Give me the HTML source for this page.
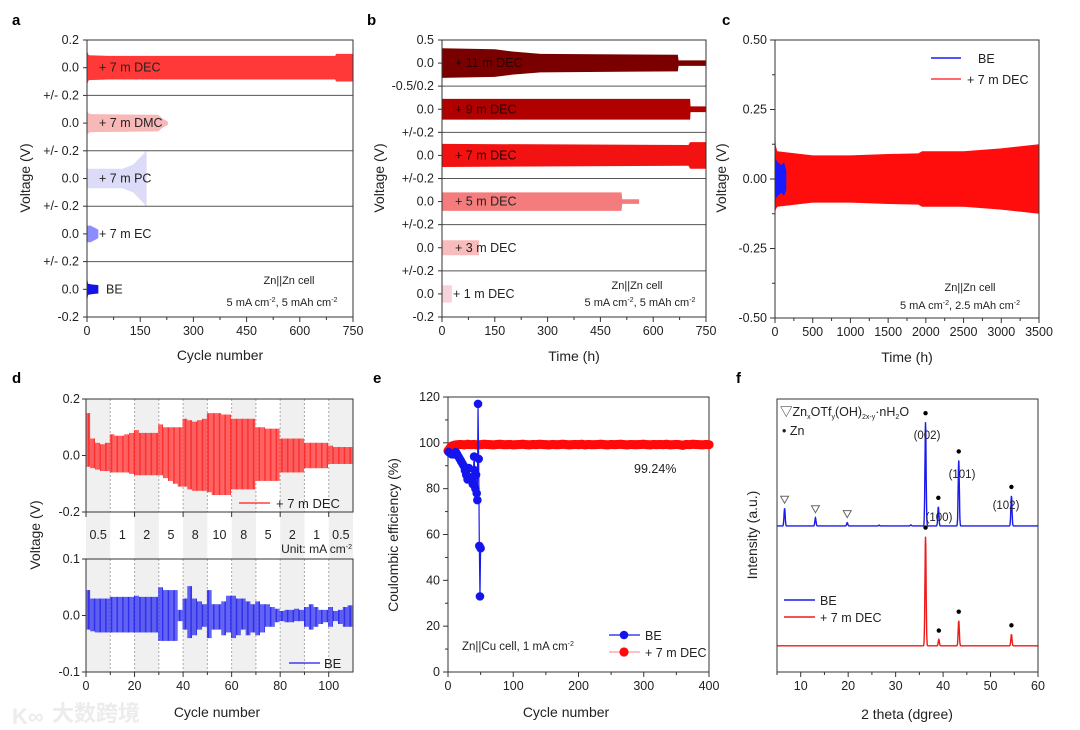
<!DOCTYPE html>
<html><head><meta charset="utf-8">
<style>
html,body{margin:0;padding:0;background:#fff;}
svg{display:block;font-family:"Liberation Sans","Noto Sans CJK SC",sans-serif;}
</style></head>
<body>
<svg id="fig" width="1080" height="730" viewBox="0 0 1080 730" xmlns="http://www.w3.org/2000/svg">
<text x="52" y="721" font-size="22" fill="#ececec" font-weight="bold" font-family="'Noto Sans CJK SC',sans-serif">大数跨境</text>
<text x="12" y="724" font-size="22" fill="#ececec" font-weight="bold">K∞</text>
</svg>
<script>
// ---------- DATA ----------
const aNames = ["+ 7 m DEC","+ 7 m DMC","+ 7 m PC","+ 7 m EC","BE"];
const aColors = ["#ff3838","#f8b8b8","#dcdcf8","#8c8cff","#1414e6"];
const aEnvX = [[0,5,60,700,702,750],[0,10,200,215,228],[0,100,130,160,166,168],[0,10,25,32],[0,3,15,32]];
const aEnvY = [[0.12,0.09,0.085,0.085,0.1,0.1],[0.08,0.065,0.06,0.03,0.012],[0.07,0.07,0.1,0.18,0.2,0.2],[0.06,0.06,0.04,0.03],[0.09,0.04,0.035,0.03]];
const aXTicks = [0,150,300,450,600,750];
const bNames = ["+ 11 m DEC","+ 9 m DEC","+ 7 m DEC","+ 5 m DEC","+ 3 m DEC","+ 1 m DEC"];
const bColors = ["#7a0000","#b00000","#f21212","#f57c7c","#f8bcbc","#f9d3dc"];
const bRange = [0.5,0.2,0.2,0.2,0.2,0.2];
const bEnvX = [[0,150,200,280,670,672,750],[0,705,706,750],[0,700,705,750],[0,510,512,560],[0,105],[0,28]];
const bEnvY = [[0.32,0.3,0.25,0.2,0.18,0.06,0.06],[0.09,0.09,0.025,0.025],[0.1,0.09,0.115,0.115],[0.08,0.08,0.02,0.02],[0.065,0.065],[0.075,0.075]];
const cRedX = [0,10,30,500,1000,1500,1900,1950,2500,3000,3500];
const cRedUp = [0.2,0.12,0.1,0.085,0.085,0.09,0.092,0.1,0.1,0.11,0.125];
const cRedLo = [-0.13,-0.11,-0.1,-0.085,-0.085,-0.09,-0.092,-0.1,-0.1,-0.11,-0.125];
const cBlueX = [0,10,40,80,120,150];
const cBlueUp = [0.14,0.07,0.06,0.05,0.06,0.03];
const cBlueLo = [-0.16,-0.07,-0.06,-0.05,-0.06,-0.04];
const cXTicks = [0,500,1000,1500,2000,2500,3000,3500];
const cYTicks = [0.5,0.25,0,-0.25,-0.5];
const cYLabels = ["0.50","0.25","0.00","-0.25","-0.50"];
const dRates = ["0.5","1","2","5","8","10","8","5","2","1","0.5"];
const dRedUp = [0.15,0.06,0.045,0.04,0.045,0.075,0.07,0.07,0.075,0.08,0.09,0.08,0.08,0.08,0.08,0.11,0.1,0.1,0.1,0.1,0.13,0.125,0.12,0.125,0.13,0.15,0.15,0.15,0.145,0.145,0.13,0.13,0.13,0.13,0.13,0.1,0.1,0.095,0.095,0.095,0.06,0.06,0.06,0.06,0.06,0.045,0.045,0.045,0.045,0.045,0.035,0.03,0.03,0.03,0.03];
const dRedLo = [-0.04,-0.045,-0.05,-0.055,-0.055,-0.06,-0.06,-0.06,-0.06,-0.065,-0.07,-0.07,-0.07,-0.07,-0.07,-0.07,-0.08,-0.09,-0.1,-0.11,-0.11,-0.12,-0.125,-0.125,-0.125,-0.13,-0.14,-0.14,-0.14,-0.14,-0.12,-0.12,-0.12,-0.12,-0.12,-0.09,-0.09,-0.09,-0.09,-0.09,-0.06,-0.06,-0.06,-0.06,-0.06,-0.045,-0.045,-0.045,-0.045,-0.045,-0.03,-0.03,-0.03,-0.03,-0.03];
const dBlueUp = [0.045,0.03,0.03,0.03,0.03,0.033,0.033,0.033,0.033,0.033,0.035,0.033,0.033,0.033,0.033,0.05,0.045,0.045,0.045,0.01,0.03,0.052,0.03,0.025,0.02,0.045,0.02,0.02,0.025,0.035,0.035,0.03,0.03,0.025,0.02,0.025,0.02,0.02,0.015,0.012,0.008,0.01,0.01,0.012,0.01,0.015,0.02,0.015,0.01,0.01,0.015,0.008,0.01,0.015,0.018];
const dBlueLo = [-0.025,-0.028,-0.03,-0.03,-0.03,-0.03,-0.03,-0.03,-0.03,-0.03,-0.03,-0.03,-0.03,-0.03,-0.03,-0.045,-0.045,-0.045,-0.045,-0.01,-0.025,-0.04,-0.035,-0.025,-0.02,-0.04,-0.025,-0.025,-0.035,-0.03,-0.04,-0.035,-0.025,-0.035,-0.03,-0.035,-0.03,-0.02,-0.02,-0.012,-0.01,-0.012,-0.012,-0.01,-0.01,-0.02,-0.025,-0.02,-0.015,-0.012,-0.02,-0.01,-0.015,-0.02,-0.02];
const dXTicks = [0,20,40,60,80,100];
const eBeX = [1,3,6,9,12,14,16,18,20,22,24,26,28,30,32,34,36,38,40,41,42,43,44,45,46,47,48,49,50];
const eBeY = [96,95.5,95,95,96,95,94,93,92,91,90,88,86,84,89,85,84,82,94,88,80,86,78,75,117,93,55,33,54];
const eDecY = [96.5,98.5,99,99.2,99.3,99.1,99.4,99.2,99.3,99.1,99.2,99.4,99.3,99.2,99.1,99.3,99.4,99.2,99.2,99.3,99.1,99.2,99.3,99.4,99.2,99.1,99.3,99.2,99.4,99.3,99.2,99.1,99.3,99.2,99.2,99.4,99.3,99.1,99.2,99.3,99.2,99.4,99.1,99.3,99.2,99.2,99.3,99.4,99.2,99.1,99.3,99.2,99.3,99.4,99.2,99.1,99.3,99.2,99.2,99.3,99.4,99.2,99.1,99.3,99.2,99.3,99.2,99.4,99.1,99.2,99.3,99.2,98.9,99.3,99.2,99.4,99.3,99.2,99.1,99.3,99.2];
const eXTicks = [0,100,200,300,400];
const eYTicks = [0,20,40,60,80,100,120];
const fBluePos = [6.6,13.1,19.8,26.5,33.2,36.3,39.0,43.3,54.4];
const fBlueH = [6.5,3,1.2,0.3,0.4,38,7,24,11];
const fRedPos = [36.3,39.1,43.3,54.4];
const fRedH = [40,2.3,9.2,4.2];
const fXTicks = [10,20,30,40,50,60];
const fBlueOffset = 53.5, fRedOffset = 9.6;

// ---------- HELPERS ----------
const NS = "http://www.w3.org/2000/svg";
const svg = document.getElementById('fig');
function mk(tag, attrs, parent){ const e=document.createElementNS(NS,tag); for(const k in attrs) e.setAttribute(k,attrs[k]); (parent||svg).appendChild(e); return e; }
function lin(d0,d1,r0,r1){ return v => r0+(v-d0)*(r1-r0)/(d1-d0); }
function txt(x,y,s,opt,parent){ const t=mk('text',Object.assign({x:x,y:y,'font-size':12,fill:'#222'},opt||{}),parent); t.innerHTML=s; return t; }

function frame(x0,y0,x1,y1,name){ const r=mk('rect',{x:x0,y:y0,width:x1-x0,height:y1-y0,fill:'none',stroke:'#333','stroke-width':1});   return r; }
function xAxisTicks(xs,ticks,labels,y,minor,name){
  const g=mk('g',{});  
  ticks.forEach((t,i)=>{ mk('line',{x1:xs(t),x2:xs(t),y1:y,y2:y+5,stroke:'#333'},g); txt(xs(t),y+18,labels[i],{'text-anchor':'middle','font-size':12.5},g);
    if(minor && i<ticks.length-1){ const m=(t+ticks[i+1])/2; mk('line',{x1:xs(m),x2:xs(m),y1:y,y2:y+3,stroke:'#333'},g);} });
  return g;
}
function panelLetter(x,y,s){ const t=txt(x,y,s,{'font-size':15,'font-weight':'bold',fill:'#000'});   }
function yTitle(x,y,s,name){ const t=txt(x,y,s,{'font-size':14,'text-anchor':'middle',transform:`rotate(-90 ${x} ${y})`});   }
function xTitle(x,y,s,name){ const t=txt(x,y,s,{'font-size':14,'text-anchor':'middle'});   }
function envPath(xs,ex,ey,zero,sc){ let up='',lo=''; const n=ex.length;
  for(let i=0;i<n;i++){ up+=(i?'L':'M')+xs(ex[i])+','+(zero-ey[i]*sc); }
  for(let i=n-1;i>=0;i--){ lo+='L'+xs(ex[i])+','+(zero+ey[i]*sc); }
  return up+lo+'Z'; }

// ---------- PANEL a ----------
panelLetter(12,25,'a');
(function(){
  const x0=87,x1=353,y0=40,y1=317, n=5, bh=(y1-y0)/n;
  const xs=lin(0,750,x0,x1);
  for(let i=0;i<n;i++){
    const top=y0+i*bh, zero=top+bh/2, sc=(bh/2)/0.2;
    const p=mk('path',{d:envPath(xs,aEnvX[i],aEnvY[i],zero,sc),fill:aColors[i]});
    
    
    const lab=txt(i==4?106:99,zero+4,aNames[i],{'font-size':12.5});
     
    mk('line',{x1:x0-4,x2:x0,y1:zero,y2:zero,stroke:'#333'});
    txt(79,zero+4,'0.0',{'text-anchor':'end','font-size':12.5});
    if(i>0){ mk('line',{x1:x0,x2:x1,y1:top,y2:top,stroke:'#555'}); mk('line',{x1:x0-4,x2:x0,y1:top,y2:top,stroke:'#333'});
      txt(79,top+4,'+/- 0.2',{'text-anchor':'end','font-size':12.5}); }
  }
  mk('line',{x1:x0-4,x2:x0,y1:y0,y2:y0,stroke:'#333'}); txt(79,y0+4,'0.2',{'text-anchor':'end','font-size':12.5});
  mk('line',{x1:x0-4,x2:x0,y1:y1,y2:y1,stroke:'#333'}); txt(79,y1+4,'-0.2',{'text-anchor':'end','font-size':12.5});
  frame(x0,y0,x1,y1,'a-plot-frame');
  xAxisTicks(xs,aXTicks,aXTicks.map(String),y1,true,'a-x-axis');
  xTitle(220,360,'Cycle number','a-x-axis-title'); yTitle(30,178,'Voltage (V)','a-y-axis-title');
  const t1=txt(289,284,'Zn||Zn cell',{'font-size':11,'text-anchor':'middle'});  
  const t2=txt(282,306,'5 mA cm<tspan font-size="7" dy="-4">-2</tspan><tspan dy="4">, 5 mAh cm</tspan><tspan font-size="7" dy="-4">-2</tspan>',{'font-size':11,'text-anchor':'middle'});  
})();

// ---------- PANEL b ----------
panelLetter(367,25,'b');
(function(){
  const x0=442,x1=706,y0=40,y1=317, n=6, bh=(y1-y0)/n;
  const xs=lin(0,750,x0,x1);
  for(let i=0;i<n;i++){
    const top=y0+i*bh, zero=top+bh/2, sc=(bh/2)/bRange[i];
    const p=mk('path',{d:envPath(xs,bEnvX[i],bEnvY[i],zero,sc),fill:bColors[i]});
    
    
    const lab=txt(i==5?453:455,zero+4,bNames[i],{'font-size':12.5,fill:i<3?'#2a0000':'#222'});
     
    mk('line',{x1:x0-4,x2:x0,y1:zero,y2:zero,stroke:'#333'});
    txt(434,zero+4,'0.0',{'text-anchor':'end','font-size':12.5});
    if(i>0){ mk('line',{x1:x0,x2:x1,y1:top,y2:top,stroke:'#555'}); mk('line',{x1:x0-4,x2:x0,y1:top,y2:top,stroke:'#333'});
      txt(434,top+4,i==1?'-0.5/0.2':'+/-0.2',{'text-anchor':'end','font-size':12.5}); }
  }
  mk('line',{x1:x0-4,x2:x0,y1:y0,y2:y0,stroke:'#333'}); txt(434,y0+4,'0.5',{'text-anchor':'end','font-size':12.5});
  mk('line',{x1:x0-4,x2:x0,y1:y1,y2:y1,stroke:'#333'}); txt(434,y1+4,'-0.2',{'text-anchor':'end','font-size':12.5});
  frame(x0,y0,x1,y1,'b-plot-frame');
  xAxisTicks(xs,aXTicks,aXTicks.map(String),y1,true,'b-x-axis');
  xTitle(574,361,'Time (h)','b-x-axis-title'); yTitle(384,178,'Voltage (V)','b-y-axis-title');
  const t1=txt(637,289,'Zn||Zn cell',{'font-size':11,'text-anchor':'middle'});  
  const t2=txt(640,306,'5 mA cm<tspan font-size="7" dy="-4">-2</tspan><tspan dy="4">, 5 mAh cm</tspan><tspan font-size="7" dy="-4">-2</tspan>',{'font-size':11,'text-anchor':'middle'});  
})();

// ---------- PANEL c ----------
panelLetter(722,25,'c');
(function(){
  const x0=775,x1=1039,y0=40,y1=318;
  const xs=lin(0,3500,x0,x1), ys=lin(0.5,-0.5,y0,y1);
  function band(X,U,L,color,name){ let d=''; X.forEach((x,i)=>{d+=(i?'L':'M')+xs(x)+','+ys(U[i]);}); for(let i=X.length-1;i>=0;i--) d+='L'+xs(X[i])+','+ys(L[i]); d+='Z';
    const p=mk('path',{d:d,fill:color});   }
  band(cRedX,cRedUp,cRedLo,'#ff0d0d','c-series-7m-dec');
  band(cBlueX,cBlueUp,cBlueLo,'#1a1aff','c-series-be');
  frame(x0,y0,x1,y1,'c-plot-frame');
  cYTicks.forEach((t,i)=>{ mk('line',{x1:x0-5,x2:x0,y1:ys(t),y2:ys(t),stroke:'#333'}); txt(x0-8,ys(t)+4,cYLabels[i],{'text-anchor':'end','font-size':12.5});
    if(i<cYTicks.length-1){ const m=(t+cYTicks[i+1])/2; mk('line',{x1:x0-3,x2:x0,y1:ys(m),y2:ys(m),stroke:'#333'});} });
  xAxisTicks(xs,cXTicks,cXTicks.map(String),y1,true,'c-x-axis');
  xTitle(907,362,'Time (h)','c-x-axis-title'); yTitle(726,178,'Voltage (V)','c-y-axis-title');
  const l1=mk('line',{x1:931,x2:961,y1:58,y2:58,stroke:'#1a1aff','stroke-width':1.5});  
  txt(978,63,'BE',{'font-size':12.5});
  const l2=mk('line',{x1:931,x2:961,y1:79,y2:79,stroke:'#ff3a3a','stroke-width':1.5});  
  txt(967,84,'+ 7 m DEC',{'font-size':12.5});
  const t1=txt(970,291,'Zn||Zn cell',{'font-size':11,'text-anchor':'middle'});  
  const t2=txt(960,309,'5 mA cm<tspan font-size="7" dy="-4">-2</tspan><tspan dy="4">, 2.5 mAh cm</tspan><tspan font-size="7" dy="-4">-2</tspan>',{'font-size':11,'text-anchor':'middle'});  
})();

// ---------- PANEL d ----------
panelLetter(12,383,'d');
(function(){
  const x0=86,x1=353,xs=lin(0,110,x0,x1);
  const tY0=399,tY1=512,bY0=559,bY1=672;
  const yt=lin(0.2,-0.2,tY0,tY1), yb=lin(0.1,-0.1,bY0,bY1);
  for(let s=0;s<11;s++){
    if(s%2==0){ const r=mk('rect',{x:xs(s*10),y:tY0,width:xs(10)-xs(0),height:bY1-tY0,fill:'#f0f0f0'});   }
    const lt=txt(xs(s*10+5),539,dRates[s],{'text-anchor':'middle','font-size':12.5});  
    if(s>0){ mk('line',{x1:xs(s*10),x2:xs(s*10),y1:tY0,y2:tY1,stroke:'#aaa','stroke-dasharray':'2,2'}); mk('line',{x1:xs(s*10),x2:xs(s*10),y1:bY0,y2:bY1,stroke:'#aaa','stroke-dasharray':'2,2'}); }
  }
  const gr=mk('g',{stroke:'#ff1a1a','stroke-width':0.9});  
  const gb=mk('g',{stroke:'#1a1aee','stroke-width':0.9});  
  const step=110/dRedUp.length;
  for(let c=0;c<110;c+=0.5){
    const k=Math.min(dRedUp.length-1,Math.floor(c/step));
    mk('line',{x1:xs(c),x2:xs(c),y1:yt(dRedUp[k]),y2:yt(dRedLo[k])},gr);
    mk('line',{x1:xs(c),x2:xs(c),y1:yb(dBlueUp[k]),y2:yb(dBlueLo[k])},gb);
  }
  frame(x0,tY0,x1,tY1,'d-top-frame'); frame(x0,bY0,x1,bY1,'d-bottom-frame');
  [[0.2,'0.2'],[0,'0.0'],[-0.2,'-0.2']].forEach(([v,l])=>{ mk('line',{x1:x0-4,x2:x0,y1:yt(v),y2:yt(v),stroke:'#333'}); txt(x0-6,yt(v)+4,l,{'text-anchor':'end','font-size':12.5}); });
  [[0.1,'0.1'],[0,'0.0'],[-0.1,'-0.1']].forEach(([v,l])=>{ mk('line',{x1:x0-4,x2:x0,y1:yb(v),y2:yb(v),stroke:'#333'}); txt(x0-6,yb(v)+4,l,{'text-anchor':'end','font-size':12.5}); });
  dXTicks.forEach(t=>{ mk('line',{x1:xs(t),x2:xs(t),y1:tY1,y2:tY1+5,stroke:'#333'}); });
  xAxisTicks(xs,dXTicks,dXTicks.map(String),bY1,true,'d-x-axis');
  const u=txt(352,553,'Unit: mA cm<tspan font-size="7" dy="-4">-2</tspan>',{'text-anchor':'end','font-size':12});  
  const l1=mk('line',{x1:239,x2:270,y1:503,y2:503,stroke:'#ff1a1a','stroke-width':1.3});  
  txt(276,508,'+ 7 m DEC',{'font-size':13});
  const l2=mk('line',{x1:289,x2:320,y1:663,y2:663,stroke:'#1a1aee','stroke-width':1.3});  
  txt(324,668,'BE',{'font-size':13});
  xTitle(217,717,'Cycle number','d-x-axis-title'); yTitle(40,535,'Voltage (V)','d-y-axis-title');
})();

// ---------- PANEL e ----------
panelLetter(373,383,'e');
(function(){
  const x0=448,x1=709,y0=397,y1=672;
  const xs=lin(0,400,x0,x1), ys=lin(0,120,y1,y0);
  frame(x0,y0,x1,y1,'e-plot-frame');
  const gr=mk('g',{fill:'#ff0a0a'});  
  const stepE=400/(eDecY.length-1);
  eDecY.forEach((v,i)=>{ mk('circle',{cx:xs(i*stepE),cy:ys(v),r:4.6},gr); if(i<eDecY.length-1) mk('circle',{cx:xs((i+0.5)*stepE),cy:ys((v+eDecY[i+1])/2),r:4.6},gr); });
  const gb=mk('g',{});  
  mk('polyline',{points:eBeX.map((x,i)=>xs(x)+','+ys(eBeY[i])).join(' '),fill:'none',stroke:'#1a1aee','stroke-width':1.2},gb);
  eBeX.forEach((x,i)=>mk('circle',{cx:xs(x),cy:ys(eBeY[i]),r:4.3,fill:'#1414ee'},gb));
  eYTicks.forEach((t,i)=>{ mk('line',{x1:x0-5,x2:x0,y1:ys(t),y2:ys(t),stroke:'#333'}); txt(x0-8,ys(t)+4,String(t),{'text-anchor':'end','font-size':12.5});
    if(i<eYTicks.length-1) mk('line',{x1:x0-3,x2:x0,y1:ys(t+10),y2:ys(t+10),stroke:'#333'}); });
  xAxisTicks(xs,eXTicks,eXTicks.map(String),y1,true,'e-x-axis');
  const p=txt(634,473,'99.24%',{'font-size':12.5});  
  const n=txt(462,650,'Zn||Cu cell, 1 mA cm<tspan font-size="7" dy="-4">-2</tspan>',{'font-size':11.5});  
  const lg=mk('g',{});  
  mk('line',{x1:609,x2:640,y1:635,y2:635,stroke:'#1a1aee','stroke-width':1.2},lg); mk('circle',{cx:624,cy:635,r:4.3,fill:'#1414ee'},lg); txt(645,640,'BE',{'font-size':12.5},lg);
  mk('line',{x1:609,x2:640,y1:652,y2:652,stroke:'#ff8080','stroke-width':1},lg); mk('circle',{cx:624,cy:652,r:4.6,fill:'#ff0a0a'},lg); txt(645,657,'+ 7 m DEC',{'font-size':12.5},lg);
  xTitle(566,717,'Cycle number','e-x-axis-title'); yTitle(398,535,'Coulombic efficiency (%)','e-y-axis-title');
})();

// ---------- PANEL f ----------
panelLetter(736,383,'f');
(function(){
  const x0=777,x1=1038,y0=399,y1=672;
  const xs=lin(5,60,x0,x1), ys=lin(0,100,y1,y0);
  function curve(pos,h,off,color,name){ let d=''; for(let t=5;t<=60;t+=0.05){ let v=off; pos.forEach((p,i)=>{ const w=0.12; v+=h[i]*Math.exp(-((t-p)*(t-p))/(2*w*w)); }); d+=(d?'L':'M')+xs(t).toFixed(1)+','+ys(v).toFixed(1); }
    const pth=mk('path',{d:d,fill:'none',stroke:color,'stroke-width':1.4});   }
  curve(fBluePos,fBlueH,fBlueOffset,'#1a1aee','f-series-be');
  curve(fRedPos,fRedH,fRedOffset,'#ee1a1a','f-series-7m-dec');
  frame(x0,y0,x1,y1,'f-plot-frame');
  xAxisTicks(xs,fXTicks,fXTicks.map(String),y1,true,'f-x-axis');
  mk('line',{x1:xs(5),x2:xs(5),y1:y1,y2:y1+3,stroke:'#333'});
  const gm=mk('g',{fill:'#000'});  
  [5,6,7,8].forEach(i=>mk('circle',{cx:xs(fBluePos[i]),cy:ys(fBlueOffset+fBlueH[i])-9,r:2.2},gm));
  fRedPos.forEach((p,i)=>mk('circle',{cx:xs(p),cy:ys(fRedOffset+fRedH[i])-9,r:2.2},gm));
  const gt=mk('g',{fill:'none',stroke:'#666'});  
  [0,1,2].forEach(i=>{ const cx=xs(fBluePos[i]), cy=ys(fBlueOffset+fBlueH[i])-9; mk('path',{d:`M${cx-4},${cy-3}L${cx+4},${cy-3}L${cx},${cy+4}Z`},gt); });
  [['(002)',927,439],['(101)',962,478],['(100)',939,521],['(102)',1006,509]].forEach(([s,x,y])=>{ const t=txt(x,y,s,{'font-size':11.5,'text-anchor':'middle'});   });
  const k1=txt(780,416,'▽Zn<tspan font-size="7" dy="3">x</tspan><tspan dy="-3">OTf</tspan><tspan font-size="7" dy="3">y</tspan><tspan dy="-3">(OH)</tspan><tspan font-size="7" dy="3">2x-y</tspan><tspan dy="-3">·nH</tspan><tspan font-size="7" dy="3">2</tspan><tspan dy="-3">O</tspan>',{'font-size':12.5});  
  const k2=txt(782,435,'• Zn',{'font-size':12.5});  
  const lg=mk('g',{});  
  mk('line',{x1:784,x2:815,y1:600,y2:600,stroke:'#1a1aee','stroke-width':1.4},lg); txt(820,605,'BE',{'font-size':12.5},lg);
  mk('line',{x1:784,x2:815,y1:617,y2:617,stroke:'#ee1a1a','stroke-width':1.4},lg); txt(820,622,'+ 7 m DEC',{'font-size':12.5},lg);
  xTitle(907,719,'2 theta (dgree)','f-x-axis-title'); yTitle(757,535,'Intensity (a.u.)','f-y-axis-title');
})();
</script>
</body></html>
